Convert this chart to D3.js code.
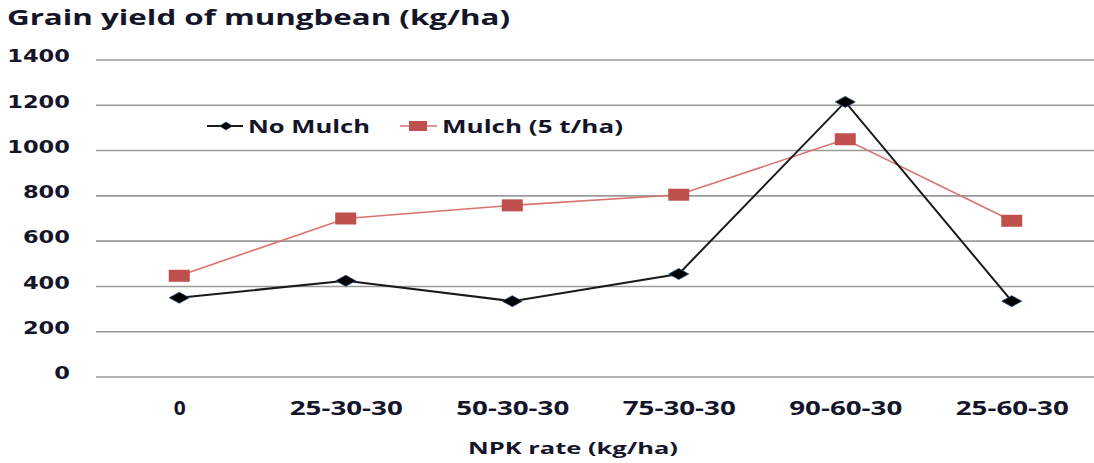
<!DOCTYPE html>
<html>
<head>
<meta charset="utf-8">
<script src="https://cdn.jsdelivr.net/npm/d3@7/dist/d3.min.js"></script>
<style>
  html, body { margin: 0; padding: 0; background: #fff; }
  svg { display: block; }
</style>
</head>
<body>
<svg id="chart" width="1094" height="463"></svg>
<script>
const categories = ["0", "25-30-30", "50-30-30", "75-30-30", "90-60-30", "25-60-30"];
const noMulch = [350, 425, 335, 455, 1215, 335];
const mulch = [447, 700, 758, 805, 1050, 690];
const yTicks = [0, 200, 400, 600, 800, 1000, 1200, 1400];
const seriesNames = ["No Mulch", "Mulch (5 t/ha)"];
const titleText = "Grain yield of mungbean (kg/ha)";
const xTitleText = "NPK rate (kg/ha)";

const svg = d3.select("#chart");
const textColor = "#15152a";
const red = "#C0504D";

const x = d3.scalePoint().domain(categories).range([96, 1095]).padding(0.5);
const y = d3.scaleLinear().domain([0, 1400]).range([377, 60]);

function stretch(sel, len) {
  sel.attr("textLength", len).attr("lengthAdjust", "spacingAndGlyphs");
}

// Title
svg.append("text")
  .attr("x", 7).attr("y", 25)
  .attr("font-family", "'Open Sans', sans-serif")
  .attr("font-weight", "bold")
  .attr("font-size", 21)
  .attr("fill", textColor)
  .text(titleText)
  .call(stretch, 503);

// Gridlines
svg.append("g").selectAll("line").data(yTicks).join("line")
  .attr("x1", 96).attr("x2", 1094)
  .attr("y1", d => y(d)).attr("y2", d => y(d))
  .attr("stroke", "#9a9a9a").attr("stroke-width", 1.6);

// Y axis labels
const yAxis = d3.axisLeft(y).tickValues(yTicks).tickFormat(d3.format("d")).tickSize(0).tickPadding(0);
const yg = svg.append("g").attr("transform", "translate(70,0)").call(yAxis);
yg.select(".domain").remove();
yg.selectAll("text")
  .attr("font-family", "'DejaVu Sans', sans-serif")
  .attr("font-weight", "bold")
  .attr("font-size", 18)
  .attr("fill", textColor)
  .attr("dy", "0.1em")
  .attr("x", 0)
  .each(function(d) {
    const s = String(d);
    d3.select(this).call(stretch, s.length * 15.7);
  });

// X axis labels
const xAxis = d3.axisBottom(x).tickSize(0).tickPadding(0);
const xg = svg.append("g").attr("transform", "translate(0,400)").call(xAxis);
xg.select(".domain").remove();
xg.selectAll("text")
  .attr("font-family", "'Open Sans', sans-serif")
  .attr("font-weight", "bold")
  .attr("font-size", 19)
  .attr("fill", textColor)
  .attr("dy", "0.8em")
  .attr("y", 0)
  .each(function(d) {
    if (d.length > 1) d3.select(this).call(stretch, 113);
    else d3.select(this).call(stretch, 12);
  });

// X title
svg.append("text")
  .attr("x", 573).attr("y", 454)
  .attr("text-anchor", "middle")
  .attr("font-family", "'Open Sans', sans-serif")
  .attr("font-weight", "bold")
  .attr("font-size", 16)
  .attr("fill", textColor)
  .text(xTitleText)
  .call(stretch, 210);

// Lines
const line = d3.line().x((d, i) => x(categories[i])).y(d => y(d));

svg.append("path").datum(mulch)
  .attr("d", line).attr("fill", "none")
  .attr("stroke", "#D9736F").attr("stroke-width", 1.6);

svg.append("path").datum(noMulch)
  .attr("d", line).attr("fill", "none")
  .attr("stroke", "#1a1a1a").attr("stroke-width", 2);

// Mulch markers (rectangles)
svg.append("g").selectAll("rect").data(mulch).join("rect")
  .attr("x", (d, i) => x(categories[i]) - 10.5)
  .attr("y", d => y(d) - 6)
  .attr("width", 21).attr("height", 12)
  .attr("fill", red);

// No Mulch markers (diamonds)
function diamond(cx, cy, w, h) {
  return `M${cx - w / 2},${cy} L${cx},${cy - h / 2} L${cx + w / 2},${cy} L${cx},${cy + h / 2} Z`;
}
svg.append("g").selectAll("path").data(noMulch).join("path")
  .attr("d", (d, i) => diamond(x(categories[i]), y(d), 20, 11))
  .attr("fill", "#000")
  .attr("stroke", "#2a4a7a").attr("stroke-width", 0.8);

// Legend
const lg = svg.append("g");
lg.append("line").attr("x1", 207).attr("x2", 243).attr("y1", 126).attr("y2", 126)
  .attr("stroke", "#1a1a1a").attr("stroke-width", 2);
lg.append("path").attr("d", diamond(226, 126, 13, 8)).attr("fill", "#000")
  .attr("stroke", "#2a4a7a").attr("stroke-width", 0.6);
lg.append("text").attr("x", 248).attr("y", 133)
  .attr("font-family", "'Open Sans', sans-serif").attr("font-weight", "bold")
  .attr("font-size", 17).attr("fill", textColor)
  .text(seriesNames[0]).call(stretch, 122);

lg.append("line").attr("x1", 400).attr("x2", 437).attr("y1", 126).attr("y2", 126)
  .attr("stroke", "#D9736F").attr("stroke-width", 1.6);
lg.append("rect").attr("x", 409).attr("y", 121).attr("width", 18).attr("height", 10)
  .attr("fill", red);
lg.append("text").attr("x", 442).attr("y", 133)
  .attr("font-family", "'Open Sans', sans-serif").attr("font-weight", "bold")
  .attr("font-size", 17).attr("fill", textColor)
  .text(seriesNames[1]).call(stretch, 181);
</script>
</body>
</html>
